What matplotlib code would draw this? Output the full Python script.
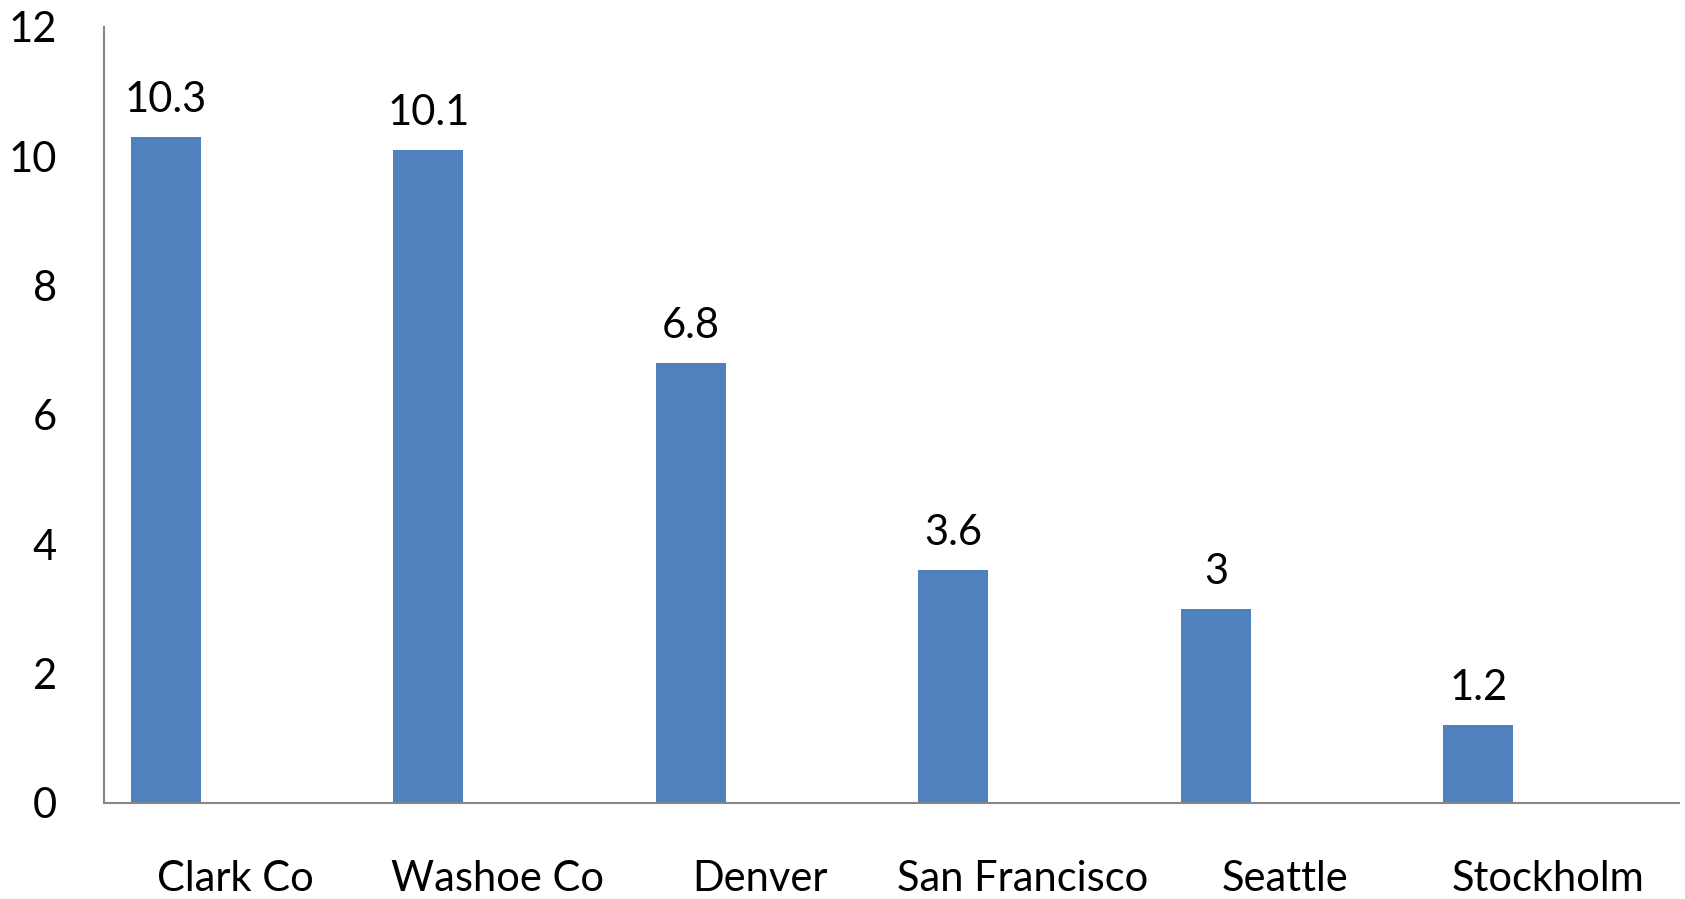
import numpy as np
import matplotlib.pyplot as plt

# Gegevens
categories = ['Clark Co', 'Washoe Co', 'Denver', 'San Francisco', 'Seattle', 'Stockholm']
values = [10.3, 10.1, 6.8, 3.6, 3, 1.2]
value_labels = ['10.3', '10.1', '6.8', '3.6', '3', '1.2']

plt.rcParams['font.family'] = ['Lato', 'DejaVu Sans']

fig = plt.figure(figsize=(16.85, 8.99), dpi=100)
ax = fig.add_axes([0.0617, 0.1068, 0.9347, 0.8632])

x = np.arange(len(categories))
# balken staan links in hun categorie (zoals in Excel met lege tweede reeks)
bars = ax.bar(x - 0.5 + 0.236, values, width=0.267, color='#4F81BD')

for b, lab in zip(bars, value_labels):
    ax.text(b.get_x() + b.get_width() / 2, b.get_height() + 0.39, lab,
            ha='center', va='baseline', fontsize=30)

ax.set_xlim(-0.5, len(categories) - 0.5)
ax.set_ylim(0, 12)
ax.set_yticks(range(0, 13, 2))
ax.set_xticks(x)
ax.set_xticklabels(categories)
ax.tick_params(axis='y', length=0, pad=34, labelsize=30)
ax.tick_params(axis='x', length=0, pad=41, labelsize=30)

for s in ['top', 'right']:
    ax.spines[s].set_visible(False)
for s in ['left', 'bottom']:
    ax.spines[s].set_color('#868686')
    ax.spines[s].set_linewidth(1.5)

fig.savefig('out.png', dpi=100)
